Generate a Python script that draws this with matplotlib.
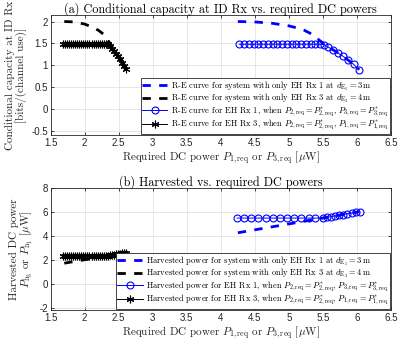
import matplotlib
matplotlib.use("Agg")
import matplotlib.pyplot as plt

plt.rcParams['mathtext.fontset'] = 'cm'
plt.rcParams['font.family'] = ['Liberation Sans', 'DejaVu Sans']

SERIF = 'cmr10'
TXT = '#262626'

# ---------------- data ----------------
# Panel (a): conditional capacity
dash1_x = [4.25, 4.5, 4.75, 5.0, 5.2, 5.35, 5.5, 5.65, 5.8, 5.95, 6.03]
dash1_y = [2.0, 1.99, 1.96, 1.9, 1.82, 1.7, 1.5, 1.35, 1.2, 1.02, 0.9]
dash3_x = [1.7, 1.85, 2.0, 2.1, 2.2, 2.3, 2.37, 2.45, 2.55, 2.62]
dash3_y = [2.0, 1.99, 1.94, 1.88, 1.8, 1.68, 1.5, 1.3, 1.1, 0.9]

circ_a_x = [4.27, 4.34, 4.41, 4.48, 4.55, 4.62, 4.69, 4.76, 4.83, 4.90, 4.97, 5.04,
            5.11, 5.18, 5.25, 5.32, 5.39, 5.46, 5.52, 5.58, 5.65, 5.72, 5.79, 5.87,
            5.95, 6.03]
circ_a_y = [1.48, 1.48, 1.48, 1.48, 1.48, 1.48, 1.48, 1.48, 1.48, 1.48, 1.48, 1.48,
            1.48, 1.48, 1.48, 1.48, 1.48, 1.48, 1.47, 1.41, 1.35, 1.28, 1.21, 1.12,
            1.02, 0.9]

star_x = [1.68, 1.71, 1.74, 1.77, 1.80, 1.83, 1.86, 1.89, 1.92, 1.95, 1.98, 2.01,
          2.04, 2.07, 2.10, 2.13, 2.16, 2.19, 2.22, 2.25, 2.28, 2.31, 2.34, 2.37,
          2.40, 2.43, 2.46, 2.49, 2.52, 2.55, 2.58, 2.61]
star_a_y = [1.48, 1.48, 1.48, 1.48, 1.48, 1.48, 1.48, 1.48, 1.48, 1.48, 1.48, 1.48,
            1.48, 1.48, 1.48, 1.48, 1.48, 1.48, 1.48, 1.48, 1.48, 1.48, 1.48, 1.44,
            1.38, 1.32, 1.26, 1.20, 1.13, 1.06, 0.99, 0.92]

# Panel (b): harvested power
hdash1_x = [4.25, 6.03]
hdash1_y = [4.27, 6.03]
hdash3_x = [1.7, 2.62]
hdash3_y = [1.72, 2.62]

circ_b_x = [4.24, 4.34, 4.45, 4.55, 4.66, 4.76, 4.87, 4.97, 5.08, 5.18, 5.29, 5.39,
            5.50, 5.56, 5.62, 5.68, 5.74, 5.80, 5.86, 5.92, 5.98, 6.04]
circ_b_y = [5.5, 5.5, 5.5, 5.5, 5.5, 5.5, 5.5, 5.5, 5.5, 5.5, 5.5, 5.5,
            5.5, 5.56, 5.62, 5.68, 5.74, 5.80, 5.86, 5.92, 5.98, 6.02]
star_b_y = [2.35, 2.35, 2.35, 2.35, 2.35, 2.35, 2.35, 2.35, 2.35, 2.35, 2.35, 2.35,
            2.35, 2.35, 2.35, 2.35, 2.35, 2.35, 2.35, 2.35, 2.35, 2.35, 2.35, 2.37,
            2.40, 2.43, 2.46, 2.49, 2.52, 2.55, 2.58, 2.61]

xticks = [1.5, 2, 2.5, 3, 3.5, 4, 4.5, 5, 5.5, 6, 6.5]
yticks_a = [-0.5, 0, 0.5, 1, 1.5, 2]
yticks_b = [-2, 0, 2, 4, 6, 8]

xlabel = r'Required DC power $P_{1,\mathrm{req}}$ or $P_{3,\mathrm{req}}$ [$\mu$W]'
leg_a = [r'R-E curve for system with only EH Rx 1 at $d_{\mathrm{E}_1}=3\,\mathrm{m}$',
         r'R-E curve for system with only EH Rx 3 at $d_{\mathrm{E}_3}=4\,\mathrm{m}$',
         r'R-E curve for EH Rx 1, when $P_{2,\mathrm{req}}=P^{*}_{2,\mathrm{req}}$, $P_{3,\mathrm{req}}=P^{*}_{3,\mathrm{req}}$',
         r'R-E curve for EH Rx 3, when $P_{2,\mathrm{req}}=P^{*}_{2,\mathrm{req}}$, $P_{1,\mathrm{req}}=P^{*}_{1,\mathrm{req}}$']
leg_b = [r'Harvested power for system with only EH Rx 1 at $d_{\mathrm{E}_1}=3\,\mathrm{m}$',
         r'Harvested power for system with only EH Rx 3 at $d_{\mathrm{E}_3}=4\,\mathrm{m}$',
         r'Harvested power for EH Rx 1, when $P_{2,\mathrm{req}}=P^{*}_{2,\mathrm{req}}$, $P_{3,\mathrm{req}}=P^{*}_{3,\mathrm{req}}$',
         r'Harvested power for EH Rx 3, when $P_{2,\mathrm{req}}=P^{*}_{2,\mathrm{req}}$, $P_{1,\mathrm{req}}=P^{*}_{1,\mathrm{req}}$']

fig = plt.figure(figsize=(3.99, 3.43), dpi=100)
ax1 = fig.add_axes([0.127, 0.6064, 0.853, 0.35])
ax2 = fig.add_axes([0.127, 0.0962, 0.853, 0.355])

ASTER = (6, 2, 0)


def style(ax, yticks, ylim):
    ax.set_xlim(1.5, 6.5)
    ax.set_ylim(*ylim)
    ax.set_xticks(xticks)
    ax.set_xticklabels([f'{t:g}' for t in xticks])
    ax.set_yticks(yticks)
    ax.set_yticklabels([f'{t:g}' for t in yticks])
    ax.grid(True, color='#e3e3e3', lw=0.6)
    ax.set_axisbelow(True)
    ax.tick_params(direction='in', top=True, right=True, labelsize=7,
                   colors=TXT, length=2.5, width=0.6, pad=2)
    for s in ax.spines.values():
        s.set_color('#262626')
        s.set_linewidth(0.6)
    ax.set_xlabel(xlabel, fontsize=8, family=SERIF, color=TXT, labelpad=1)


def legend(ax, handles, labels):
    lg = ax.legend(handles, labels, loc='lower right',
                   prop={'family': SERIF, 'size': 6.1}, frameon=True, fancybox=False,
                   edgecolor='#262626', framealpha=1, borderpad=0.15, labelspacing=-0.1,
                   handlelength=3.0, handletextpad=0.4, borderaxespad=0.15)
    lg.get_frame().set_linewidth(0.6)
    return lg


ms_c = 5.0
ms_s = 5.5
# panel a
l1, = ax1.plot(dash1_x, dash1_y, '--', color='#0000ff', lw=2.0, dashes=(3, 3))
l2, = ax1.plot(dash3_x, dash3_y, '--', color='black', lw=2.0, dashes=(3, 3))
l3, = ax1.plot(circ_a_x, circ_a_y, '-', marker='o', color='#0000ff', lw=0.7, ms=ms_c,
               mfc='none', mew=0.8)
l4, = ax1.plot(star_x, star_a_y, '-', marker=ASTER, color='black', lw=0.7, ms=ms_s, mew=0.8)
style(ax1, yticks_a, (-0.6, 2.15))
ax1.set_title('(a) Conditional capacity at ID Rx vs. required DC powers',
              fontsize=8.8, family=SERIF, pad=2)
ax1.set_ylabel('Conditional capacity at ID Rx\n[bits/(channel use)]', fontsize=8,
               family=SERIF, color=TXT, labelpad=3, linespacing=1.0)
legend(ax1, [l1, l2, l3, l4], leg_a)

# panel b
m1, = ax2.plot(hdash1_x, hdash1_y, '--', color='#0000ff', lw=2.0, dashes=(3, 3))
m2, = ax2.plot(hdash3_x, hdash3_y, '--', color='black', lw=2.0, dashes=(3, 3))
m3, = ax2.plot(circ_b_x, circ_b_y, '-', marker='o', color='#0000ff', lw=0.7, ms=ms_c,
               mfc='none', mew=0.8)
m4, = ax2.plot(star_x, star_b_y, '-', marker=ASTER, color='black', lw=0.7, ms=ms_s, mew=0.8)
style(ax2, yticks_b, (-2.2, 8))
ax2.set_title('(b) Harvested vs. required DC powers', fontsize=8.8, family=SERIF, pad=2)
ax2.set_ylabel('Harvested DC power\n$P_{\\mathrm{h}_3}$ or $P_{\\mathrm{h}_1}$ [$\\mu$W]',
               fontsize=8, family=SERIF, color=TXT, labelpad=3, linespacing=1.0)
legend(ax2, [m1, m2, m3, m4], leg_b)

fig.savefig('out.png', dpi=100)
